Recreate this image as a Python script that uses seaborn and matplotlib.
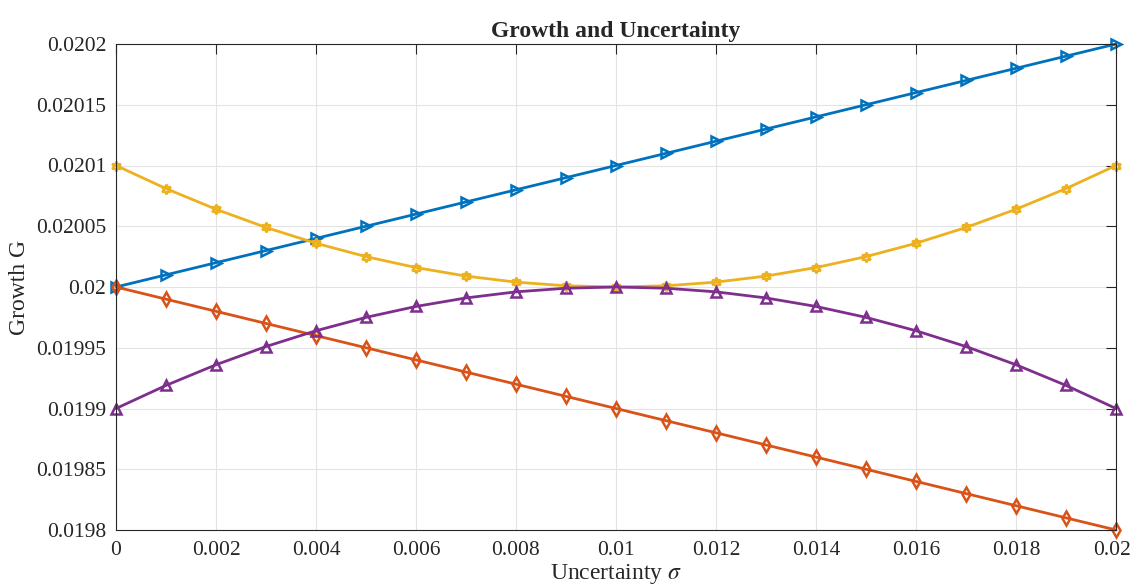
import matplotlib
matplotlib.use("Agg")
import matplotlib.pyplot as plt
import matplotlib.transforms as mtransforms
import numpy as np
import pandas as pd
import seaborn as sns

# values
sigma = [0.0, 0.001, 0.002, 0.003, 0.004, 0.005, 0.006, 0.007, 0.008, 0.009, 0.010,
         0.011, 0.012, 0.013, 0.014, 0.015, 0.016, 0.017, 0.018, 0.019, 0.020]
g_blue = [0.02000, 0.02001, 0.02002, 0.02003, 0.02004, 0.02005, 0.02006, 0.02007,
          0.02008, 0.02009, 0.02010, 0.02011, 0.02012, 0.02013, 0.02014, 0.02015,
          0.02016, 0.02017, 0.02018, 0.02019, 0.02020]
g_red = [0.02000, 0.01999, 0.01998, 0.01997, 0.01996, 0.01995, 0.01994, 0.01993,
         0.01992, 0.01991, 0.01990, 0.01989, 0.01988, 0.01987, 0.01986, 0.01985,
         0.01984, 0.01983, 0.01982, 0.01981, 0.01980]
g_yellow = [0.020100, 0.020081, 0.020064, 0.020049, 0.020036, 0.020025, 0.020016,
            0.020009, 0.020004, 0.020001, 0.020000, 0.020001, 0.020004, 0.020009,
            0.020016, 0.020025, 0.020036, 0.020049, 0.020064, 0.020081, 0.020100]
g_purple = [0.019900, 0.019919, 0.019936, 0.019951, 0.019964, 0.019975, 0.019984,
            0.019991, 0.019996, 0.019999, 0.020000, 0.019999, 0.019996, 0.019991,
            0.019984, 0.019975, 0.019964, 0.019951, 0.019936, 0.019919, 0.019900]

xtick_vals = [0, 0.002, 0.004, 0.006, 0.008, 0.01, 0.012, 0.014, 0.016, 0.018, 0.02]
xtick_labels = ["0", "0.002", "0.004", "0.006", "0.008", "0.01", "0.012", "0.014",
                "0.016", "0.018", "0.02"]
ytick_vals = [0.0198, 0.01985, 0.0199, 0.01995, 0.02, 0.02005, 0.0201, 0.02015, 0.0202]
ytick_labels = ["0.0198", "0.01985", "0.0199", "0.01995", "0.02", "0.02005", "0.0201",
                "0.02015", "0.0202"]

series = [
    (g_blue, "#0072BD", ">"),
    (g_red, "#D95319", "d"),
    (g_yellow, "#EDB120", (6, 1, 0)),
    (g_purple, "#7E2F8E", "^"),
]

sns.set_style("white")
plt.rcParams["font.family"] = ["Liberation Serif", "DejaVu Serif"]
plt.rcParams["mathtext.fontset"] = "stix"

fig = plt.figure(figsize=(11.33, 5.88), dpi=100)
ax = fig.add_axes([116 / 1133, 1 - 530 / 588, 1000 / 1133, 486 / 588])

for vals, col, mk in series:
    df = pd.DataFrame({"x": sigma, "y": vals})
    sns.lineplot(data=df, x="x", y="y", ax=ax, color=col, linewidth=2,
                 marker=mk, markersize=7, markerfacecolor="none",
                 markeredgecolor=col, markeredgewidth=1.8, clip_on=False)

ax.set_xlim(0, 0.02)
ax.set_ylim(0.0198, 0.0202)
ax.set_xticks(xtick_vals)
ax.set_xticklabels(xtick_labels)
ax.set_yticks(ytick_vals)
ax.set_yticklabels(ytick_labels)
ax.grid(True, color="#e3e3e3", linewidth=0.8)
ax.set_axisbelow(True)
for s in ax.spines.values():
    s.set_color("#262626")
    s.set_linewidth(0.8)
    s.set_visible(True)
ax.tick_params(direction="in", length=7, width=0.8, colors="#262626",
               labelsize=15.5, top=True, right=True, labelcolor="#262626")
ax.tick_params(axis="x", pad=8)
ax.tick_params(axis="y", pad=7)

# keep the last x label inside the figure edge
last = ax.get_xticklabels()[-1]
last.set_transform(last.get_transform() +
                   mtransforms.ScaledTranslation(-4 / 100, 0, fig.dpi_scale_trans))

ax.set_title("Growth and Uncertainty", fontsize=17, fontweight="bold", pad=5)
ax.set_xlabel(r"Uncertainty $\sigma$", fontsize=17, labelpad=1)
ax.set_ylabel("Growth G", fontsize=17, labelpad=4)

fig.savefig("out.png", dpi=100)
